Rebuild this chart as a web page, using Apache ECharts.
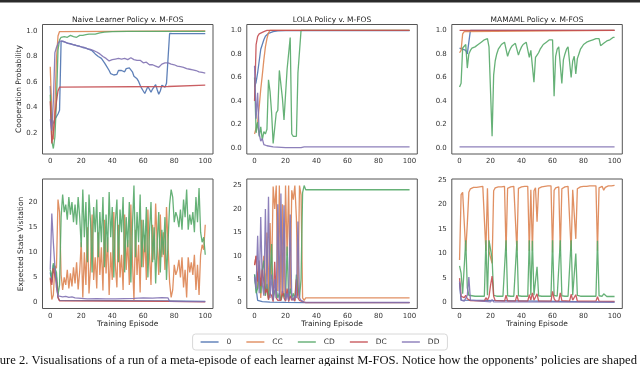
<!DOCTYPE html>
<html>
<head>
<meta charset="utf-8">
<script src="https://cdn.jsdelivr.net/npm/echarts@6/dist/echarts.min.js"></script>
<style>
html,body{margin:0;padding:0;background:#fff;}
#chart{width:640px;height:366px;}
</style>
</head>
<body>
<div id="chart"></div>
<script>
// legend names + seaborn "deep" colours
var seriesNames = ['0', 'CC', 'CD', 'DC', 'DD'];
var colors = ['#4c72b0', '#dd8452', '#55a868', '#c44e52', '#8172b3'];
var panelTitles = ['Naive Learner Policy v. M-FOS', 'LOLA Policy v. M-FOS', 'MAMAML Policy v. M-FOS'];
var episodeTicks = [0, 20, 40, 60, 80, 100];
var naiveProbTicks = [0.2, 0.4, 0.6, 0.8, 1.0];
var probTicks = [0.0, 0.2, 0.4, 0.6, 0.8, 1.0];
var naiveVisitTicks = [0, 5, 10, 15, 20];
var visitTicks = [0, 5, 10, 15, 20, 25];

// ---- cooperation probability, naive learner (one value per episode 0..100, or [episode, value])
var naiveProb0 = [
0.57,0.25,0.28,0.31,0.33,0.35,0.38,0.92,0.92,0.915,
0.91,0.905,0.9,0.9,0.895,0.89,0.89,0.885,0.88,0.88,
0.875,0.87,0.87,0.865,0.86,0.855,0.85,0.845,0.835,0.82,
0.81,0.8,0.795,0.785,0.77,0.75,0.73,0.72,0.69,0.665,
0.66,0.655,0.67,0.66,0.69,0.675,0.69,0.7,0.68,0.705,
0.69,0.71,0.72,0.68,0.645,0.63,0.625,0.605,0.575,0.55,
0.53,0.51,0.52,0.565,0.55,0.52,0.545,0.56,0.58,0.54,
0.505,0.53,0.575,0.58,0.56,0.59,0.6,0.98,0.978,0.978,
0.978,0.978,0.978,0.978,0.978,0.978,0.978,0.978,0.978,0.978,
0.978,0.978,0.978,0.978,0.978,0.978,0.978,0.978,0.978,0.978,
0.978];
var naiveProbCC = [[0,0.72],[1,0.35],[2,0.15],[3,0.4],[4,0.78],[5,0.96],[6,0.995],[7,1.0],[100,1.0]];
var naiveProbCD = [[0,0.5],[1,0.14],[2,0.08],[3,0.17],[4,0.45],[5,0.85],[6,0.93],[7,0.95],[8,0.945],[9,0.955],
  [10,0.96],[11,0.95],[12,0.955],[13,0.965],[14,0.95],[15,0.955],[16,0.96],[17,0.95],[18,0.96],[19,0.965],
  [20,0.955],[21,0.965],[22,0.96],[23,0.97],[24,0.965],[25,0.975],[26,0.97],[27,0.975],[28,0.98],[29,0.975],
  [30,0.98],[32,0.985],[35,0.99],[40,0.995],[50,0.997],[100,0.997]];
var naiveProbDC = [[0,0.45],[1,0.12],[2,0.2],[3,0.33],[4,0.45],[5,0.53],[6,0.56],[7,0.565],[76,0.565],[77,0.575],[100,0.575]];
var naiveProbDD = [
0.31,0.22,0.45,0.83,0.87,0.9,0.92,0.925,0.92,0.915,
0.91,0.905,0.9,0.9,0.895,0.89,0.89,0.885,0.88,0.88,
0.875,0.87,0.87,0.865,0.86,0.858,0.855,0.85,0.845,0.84,
0.835,0.83,0.82,0.815,0.8,0.79,0.785,0.775,0.765,0.77,
0.775,0.765,0.78,0.77,0.785,0.775,0.78,0.77,0.785,0.78,
0.775,0.785,0.79,0.78,0.775,0.78,0.77,0.765,0.77,0.765,
0.75,0.745,0.755,0.74,0.735,0.745,0.735,0.72,0.725,0.74,
0.715,0.725,0.74,0.745,0.75,0.745,0.75,0.745,0.74,0.735,
0.735,0.73,0.725,0.725,0.72,0.715,0.715,0.71,0.705,0.705,
0.7,0.7,0.695,0.69,0.69,0.685,0.68,0.68,0.675,0.672,
0.67];

// ---- cooperation probability, LOLA
var lolaProb0 = [[0,0.52],[1,0.56],[2,0.64],[3,0.74],[4,0.84],[5,0.88],[6,0.92],[7,0.95],[8,0.965],[9,0.975],[10,0.98],[12,0.99],[15,0.995],[20,0.998],[100,0.998]];
var lolaProbCC = [[0,0.12],[1,0.12],[2,0.22],[3,0.35],[4,0.5],[5,0.62],[6,0.75],[7,0.86],[8,0.93],[9,0.98],[10,1.0],[100,1.0]];
var lolaProbCD = [[0,0.6],[1,0.13],[2,0.22],[3,0.1],[4,0.18],[5,0.07],[6,0.14],[7,0.12],[8,0.16],[9,0.58],
  [10,0.48],[11,0.3],[12,0.04],[13,0.05],[14,0.3],[15,0.32],[16,0.66],[17,0.65],[18,0.42],[19,0.24],
  [20,0.24],[21,0.67],[22,0.68],[23,0.94],[24,0.12],[25,0.1],[26,0.1],[27,0.1],[28,0.64],[29,0.65],
  [30,1.0],[100,1.0]];
var lolaProbDC = [[0,0.4],[1,0.88],[2,0.95],[3,0.97],[4,0.98],[6,0.99],[8,1.0],[100,1.0]];
var lolaProbDD = [[0,0.7],[1,0.25],[2,0.47],[3,0.12],[4,0.06],[5,0.08],[6,0.03],[8,0.02],[12,0.01],[20,0.005],[30,0.005],[32,0.01],[100,0.01]];

// ---- cooperation probability, MAMAML
var mamlProb0 = [[0,0.85],[1,0.84],[2,0.84],[3,0.845],[4,0.83],[5,0.8],[6,0.79],[7,1.0],[100,1.0]];
var mamlProbCC = [[0,0.81],[1,0.83],[2,0.97],[3,0.99],[4,1.0],[100,1.0]];
var mamlProbCD = [
0.52,0.55,0.85,0.86,0.88,0.68,0.8,0.83,0.85,0.86,
0.86,0.87,0.88,0.89,0.9,0.91,0.92,0.93,0.93,0.86,
0.87,0.1,0.62,0.74,0.8,0.84,0.86,0.88,0.89,0.9,
0.91,0.78,0.82,0.85,0.87,0.88,0.89,0.9,0.79,0.83,
0.86,0.88,0.89,0.9,0.91,0.77,0.83,0.84,0.56,0.77,
0.79,0.81,0.84,0.86,0.88,0.89,0.9,0.91,0.92,0.93,
0.92,0.44,0.78,0.84,0.86,0.87,0.55,0.75,0.8,0.84,
0.86,0.87,0.6,0.74,0.78,0.63,0.76,0.8,0.84,0.86,
0.88,0.89,0.9,0.91,0.91,0.92,0.92,0.92,0.93,0.93,
0.93,0.87,0.88,0.89,0.9,0.91,0.92,0.92,0.93,0.94,
0.94];
var mamlProbDC = [[0,1.0],[100,1.0]];
var mamlProbDD = [[0,0.01],[100,0.01]];

// ---- expected state visitation, naive learner
var naiveVisit0 = [[0,6],[1,4],[2,7.5],[3,7.8],[4,5],[5,1],[6,0.4],[7,0.3],[76,0.3],[77,0.2],[100,0.2]];
var naiveVisitCC = [
5,0.6,1.5,7.3,6.8,20.5,18,5.5,2.5,5,
3.5,6.5,2.8,5.8,3.2,7,3.8,8,2.6,6.2,
12,1,10,3.5,15,1.8,7.2,17.5,4.5,9,
2.8,14,5.5,11,2.4,16.5,5.8,13,1.5,10,
4.5,18,7.5,3,15.5,5,9.5,2.5,17.5,6.5,
12.5,3.5,19.5,8.5,0.5,14.5,5.5,11.5,2,16.5,
7,13.5,4.5,18.5,9.5,3.5,15.5,8.5,19.7,11.5,
5.5,17.5,9,14,6.5,19,11.5,4,1,2.5,
7.5,5.5,6.5,8.5,5,9,3,6.5,1,9,
6,8,5.5,9.5,2.5,7.5,1.5,9.5,11.5,10.5,
15.5];
var naiveVisitCD = [
6.5,5,7.8,7.5,6,1.5,3.5,17,21.5,18,
19.5,16.5,21,17.5,20,16,19.5,15.5,21,17,
11,22.5,13,20,8,21.5,16,6,19,14,
20.5,9,18,12,21,7,17.5,10,22,13,
19,5,16,20.5,8,18.5,14,21,6,17,
11,20,4,15,23.3,9,18,12,21.5,7,
16.5,10,19,5,14,20,8,15,3.8,12,
18,6,14.5,9.5,17,4.5,12,19.5,22.5,21,
16,18,17,15,18.5,14.5,20.5,17,22.5,14.5,
17.5,15.5,18,14,21,16,22.8,14,12,13,
9.5];
var naiveVisitDC = [[0,4.8],[1,3.5],[2,6.8],[3,7],[4,4],[5,1],[6,0.3],[7,0.2],[76,0.2],[77,0.1],[100,0.1]];
var naiveVisitDD = [[0,6.5],[1,17.7],[2,12],[3,7],[4,3],[5,1.3],[6,1.0],[8,1.1],[10,1.2],[12,1.0],[14,1.1],[16,0.9],
  [20,0.8],[24,0.7],[30,0.75],[36,0.7],[42,0.7],[48,0.75],[54,0.8],[60,0.9],[66,0.85],[72,0.95],[76,0.9],[77,0.2],[100,0.15]];

// ---- expected state visitation, LOLA
var lolaVisit0 = [[0,6],[1,3],[2,0.5],[3,0.3],[5,0.2],[10,0.1],[20,0.05],[33,0],[100,0]];
var lolaVisitCC = [[0,8],[1,10],[2,3],[3,9],[4,1],[5,7],[6,10],[7,1.5],[8,15],[9,1],[10,17],[11,5],[12,24.8],[13,20],
  [14,25],[15,2.5],[16,25],[17,1],[18,21],[19,1.5],[20,25],[21,10],[22,25],[23,2],[24,24],[25,22],[26,25],[27,18],
  [28,1.5],[29,25],[30,23],[31,1],[32,0.5],[33,1],[100,1]];
var lolaVisitCD = [[0,6],[1,2],[2,3],[3,6],[4,2],[5,7],[6,9],[7,1.5],[8,4],[9,0.8],[10,5],[11,12.5],[12,0.5],[13,2.5],
  [14,3],[15,1],[16,2],[17,0.5],[18,1.5],[19,2],[20,0.5],[21,12],[22,0.5],[23,3],[24,1],[25,2],[26,0.5],[27,6],
  [28,6],[29,1],[30,5],[31,23.5],[32,25],[33,24.1],[100,24.1]];
var lolaVisitDC = [[0,8],[1,10],[2,4.5],[3,8],[4,3.5],[5,7],[6,4.5],[7,2],[8,3],[9,0.6],[10,2],[11,1.5],[12,0.2],[13,8.7],
  [14,1],[15,0.5],[16,0.5],[17,0.5],[18,2.5],[19,1],[20,0.3],[21,3],[22,0.2],[23,1.5],[24,0.5],[25,1],[26,0.3],[27,5],
  [28,1],[29,0.5],[30,0.3],[31,0.2],[32,0.1],[33,0],[100,0]];
var lolaVisitDD = [[0,5.5],[1,3],[2,14.3],[3,2],[4,18.3],[5,4],[6,1.5],[7,20],[8,3],[9,22.6],[10,1],[11,6],[12,0.5],[13,5],
  [14,1],[15,21],[16,0.5],[17,23.3],[18,2],[19,20.8],[20,0.5],[21,2],[22,0.5],[23,18.8],[24,1],[25,0.5],[26,1.5],[27,1],
  [28,17.3],[29,1],[30,0.5],[31,0.3],[32,0.1],[33,0.05],[100,0.05]];

// ---- expected state visitation, MAMAML
var mamlVisit0 = [[0,4],[1,0.5],[2,0.2],[100,0.1]];
var mamlVisitCC = [
8.7,22,22.5,22.8,10.5,16,22.5,23.2,23.4,23.5,
23.5,23.5,23.6,23.6,23.6,23.7,23.7,10.5,23.3,10.4,
10.5,8,22.8,23.4,23.5,23.6,23.6,23.6,23.7,23.7,
10.5,23.3,23.5,23.6,23.6,23.7,23.7,10.6,23.3,23.5,
23.6,23.6,23.7,23.7,23.7,10.5,23,10.6,22.8,23.4,
16.5,23.3,23.5,23.6,23.7,23.7,23.8,23.8,23.8,23.8,
10.2,22.9,23.4,23.6,23.6,10.5,23.2,23.5,23.6,23.6,
23.7,23.7,10.5,23,23.4,13,23.2,23.5,23.6,23.6,
23.7,23.7,23.7,23.8,23.8,23.8,23.8,23.8,23.8,10.6,
23.4,23.6,23.7,22.9,23.5,23.7,23.8,23.8,23.8,23.9,
23.9];
var mamlVisitCD = [
7.5,6,1.8,1.5,12.7,3,1.5,1.4,1.4,1.3,
1.3,1.3,1.3,1.3,1.3,1.3,1.3,12.7,1.5,12.7,
12.5,9,1.5,1.3,1.3,1.3,1.3,1.3,1.3,1.3,
12.7,1.4,1.3,1.3,1.3,1.3,1.3,12.6,1.4,1.3,
1.3,1.3,1.3,1.3,1.3,12.7,1.5,12.6,1.5,1.4,
7.3,1.4,1.3,1.3,1.3,1.3,1.3,1.3,1.3,1.3,
12.7,1.5,1.3,1.3,1.3,12.7,1.4,1.3,1.3,1.3,
1.3,1.3,12.7,1.5,1.4,10,1.5,1.3,1.3,1.3,
1.3,1.3,1.3,1.3,1.3,1.3,1.3,1.3,1.3,12.6,
1.4,1.3,1.3,1.8,1.4,1.25,1.25,1.25,1.25,1.25,
1.25];
var mamlVisitDC = [[0,5],[1,1.3],[2,1.6],[3,1],[4,1.5],[5,0.8],[6,1.2],[7,0.4],[16,0.3],[17,1],[18,0.5],[19,1.2],
  [20,3.5],[21,5.4],[22,1.3],[23,0.4],[29,0.3],[30,1.5],[31,0.3],[36,0.3],[37,1.5],[38,0.3],[44,0.3],[45,1.6],
  [46,0.5],[47,2],[48,0.5],[49,0.4],[50,1.8],[51,0.3],[59,0.3],[60,2.3],[61,0.8],[62,0.3],[64,0.3],[65,2],[66,0.4],
  [71,0.3],[72,1.7],[73,0.5],[74,0.4],[75,1.6],[76,0.3],[88,0.3],[89,1.2],[90,0.3],[100,0.25]];
var mamlVisitDD = [[0,4.3],[1,0.5],[2,0.3],[3,0.3],[4,0.5],[5,1.5],[6,5.2],[7,0.5],[8,0.2],[20,0.15],[21,0.6],[22,0.15],[100,0.1]];

var panelData = [
  [naiveProb0, naiveProbCC, naiveProbCD, naiveProbDC, naiveProbDD],
  [lolaProb0, lolaProbCC, lolaProbCD, lolaProbDC, lolaProbDD],
  [mamlProb0, mamlProbCC, mamlProbCD, mamlProbDC, mamlProbDD],
  [naiveVisit0, naiveVisitCC, naiveVisitCD, naiveVisitDC, naiveVisitDD],
  [lolaVisit0, lolaVisitCC, lolaVisitCD, lolaVisitDC, lolaVisitDD],
  [mamlVisit0, mamlVisitCC, mamlVisitCD, mamlVisitDC, mamlVisitDD]
];

// layout of the six panels (px)
var panelLayout = [
  {left: 42.5, top: 24.5, ymin: 0.037, ymax: 1.05, ticks: naiveProbTicks, dec: 1},
  {left: 246.8, top: 24.5, ymin: -0.05, ymax: 1.05, ticks: probTicks, dec: 1},
  {left: 451.8, top: 24.5, ymin: -0.05, ymax: 1.05, ticks: probTicks, dec: 1},
  {left: 42.5, top: 179, ymin: -1.2, ymax: 24.6, ticks: naiveVisitTicks, dec: 0},
  {left: 246.8, top: 179, ymin: -1.25, ymax: 26.4, ticks: visitTicks, dec: 0},
  {left: 451.8, top: 179, ymin: -1.2, ymax: 25.2, ticks: visitTicks, dec: 0}
];
var panelW = 170.5, panelH = 129.5;

function toPoints(arr) {
  if (Array.isArray(arr[0])) return arr;
  return arr.map(function (v, i) { return [i, v]; });
}

var tickFont = {fontFamily: 'DejaVu Sans', fontSize: 7, color: '#333'};
var grids = [], xAxes = [], yAxes = [], series = [];

panelLayout.forEach(function (p, k) {
  grids.push({left: p.left, top: p.top, width: panelW, height: panelH,
    show: true, borderColor: '#555', borderWidth: 1, backgroundColor: '#fff', containLabel: false});
  xAxes.push({type: 'value', gridIndex: k, min: -5, max: 105,
    axisLine: {show: false}, axisTick: {show: false}, splitLine: {show: false},
    axisLabel: Object.assign({customValues: episodeTicks, margin: 4}, tickFont)});
  yAxes.push({type: 'value', gridIndex: k, min: p.ymin, max: p.ymax,
    axisLine: {show: false}, axisTick: {show: false}, splitLine: {show: false},
    axisLabel: Object.assign({customValues: p.ticks, margin: 5,
      formatter: (function (d) { return function (v) { return v.toFixed(d); }; })(p.dec)}, tickFont)});
  panelData[k].forEach(function (arr, s) {
    series.push({
      name: seriesNames[s], type: 'line', xAxisIndex: k, yAxisIndex: k,
      data: toPoints(arr), showSymbol: false, symbol: 'none', silent: true,
      lineStyle: {width: 1.3, color: colors[s], opacity: 0.9},
      itemStyle: {color: colors[s]}, animation: false, clip: true
    });
  });
});

var centers = panelLayout.slice(0, 3).map(function (p) { return p.left + panelW / 2; });
var labelFont = '7.5px "DejaVu Sans"';
var graphics = [
  {type: 'rect', shape: {x: 0, y: 0, width: 640, height: 2.5}, style: {fill: '#2b2b2b'}},
  {type: 'text', x: 19, y: 89, rotation: Math.PI / 2,
    style: {text: 'Cooperation Probability', font: labelFont, fill: '#262626', textAlign: 'center', textVerticalAlign: 'middle'}},
  {type: 'text', x: 21, y: 244, rotation: Math.PI / 2,
    style: {text: 'Expected State Visitation', font: labelFont, fill: '#262626', textAlign: 'center', textVerticalAlign: 'middle'}},
  {type: 'text', x: -17, y: 361,
    style: {text: 'Figure 2. Visualisations of a run of a meta-episode of each learner against M-FOS. Notice how the opponents\u2019 policies are shaped',
      font: '12.6px "Liberation Serif"', fill: '#111', textAlign: 'left', textVerticalAlign: 'middle'}}
];
centers.forEach(function (cx, i) {
  graphics.push({type: 'text', x: cx, y: 20,
    style: {text: panelTitles[i], font: labelFont, fill: '#262626', textAlign: 'center', textVerticalAlign: 'middle'}});
  graphics.push({type: 'text', x: cx, y: 324.5,
    style: {text: 'Training Episode', font: labelFont, fill: '#262626', textAlign: 'center', textVerticalAlign: 'middle'}});
});

var chart = echarts.init(document.getElementById('chart'), null, {renderer: 'canvas'});
chart.setOption({
  animation: false,
  backgroundColor: '#fff',
  grid: grids,
  xAxis: xAxes,
  yAxis: yAxes,
  series: series,
  legend: {
    show: true, type: 'plain', orient: 'horizontal',
    data: seriesNames, top: 334, left: 'center',
    icon: 'rect', itemWidth: 18, itemHeight: 1.3, itemGap: 15,
    textStyle: {fontFamily: 'DejaVu Sans', fontSize: 7.5, color: '#333', padding: [0, 0, 0, 3]},
    borderColor: '#d8d8d8', borderWidth: 1, borderRadius: 3, padding: [4, 8]
  },
  graphic: graphics
});
</script>
</body>
</html>
